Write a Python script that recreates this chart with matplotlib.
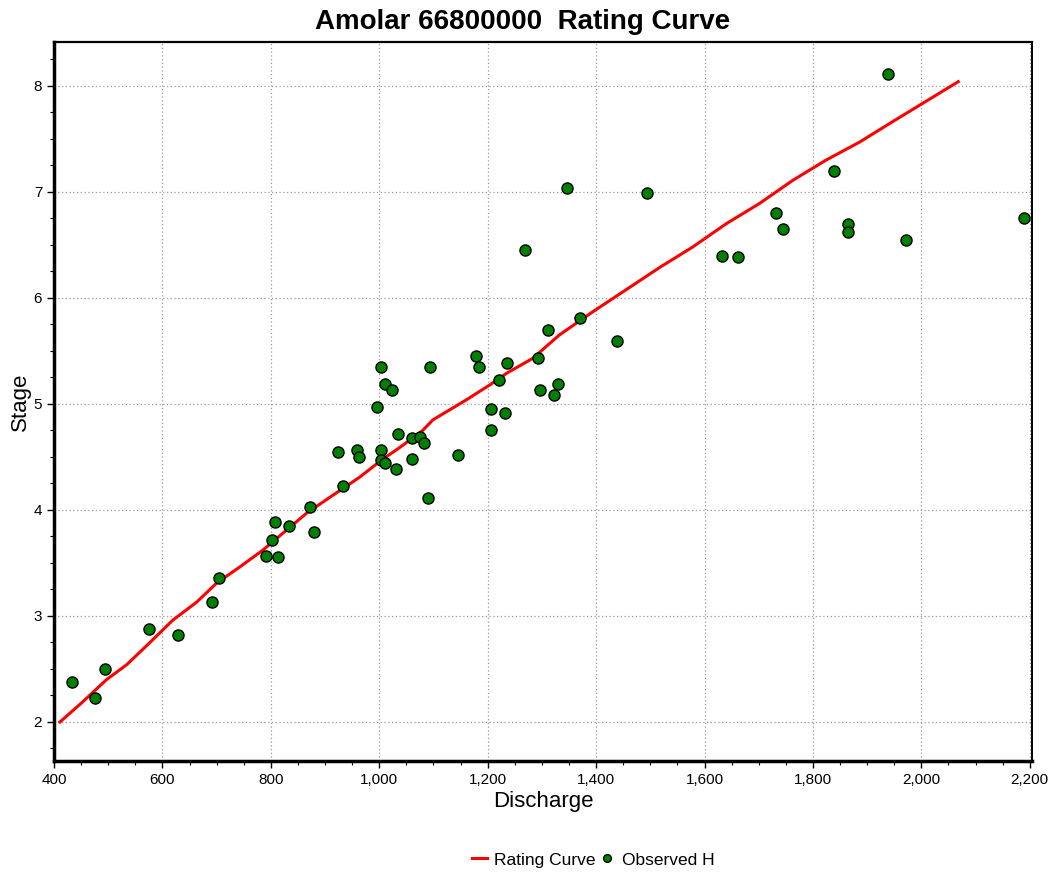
import numpy as np
import matplotlib.pyplot as plt
from matplotlib.ticker import MultipleLocator, FuncFormatter

plt.rcParams['font.family'] = ['Liberation Sans', 'DejaVu Sans']

# observed stage/discharge pairs
obs_q = [434, 476, 494, 575, 628, 691, 704, 791, 803, 807, 814, 833, 872, 879,
         923, 934, 958, 962, 995, 1003, 1004, 1004, 1010, 1011, 1024, 1030, 1034,
         1060, 1061, 1075, 1082, 1089, 1093, 1145, 1178, 1184, 1206, 1206, 1221,
         1232, 1235, 1269, 1292, 1296, 1312, 1323, 1329, 1347, 1370, 1438, 1493,
         1633, 1662, 1731, 1744, 1838, 1864, 1864, 1938, 1971, 2190]
obs_h = [2.38, 2.23, 2.50, 2.88, 2.82, 3.13, 3.36, 3.57, 3.72, 3.89, 3.56, 3.85,
         4.03, 3.79, 4.55, 4.23, 4.57, 4.50, 4.97, 5.35, 4.57, 4.47, 4.44, 5.19,
         5.13, 4.39, 4.72, 4.48, 4.68, 4.69, 4.63, 4.11, 5.35, 4.52, 5.45, 5.35,
         4.95, 4.75, 5.23, 4.91, 5.39, 6.45, 5.43, 5.13, 5.70, 5.08, 5.19, 7.04,
         5.81, 5.59, 6.99, 6.40, 6.39, 6.80, 6.65, 7.20, 6.70, 6.62, 8.11, 6.55,
         6.75]

# fitted rating curve
curve_q = [411, 453, 497, 534, 577, 619, 663, 700, 742, 785, 822, 866, 909, 964,
           1004, 1038, 1080, 1099, 1161, 1204, 1235, 1283, 1332, 1394, 1456, 1518,
           1578, 1640, 1701, 1763, 1824, 1886, 1946, 2007, 2068]
curve_h = [2.00, 2.19, 2.40, 2.54, 2.75, 2.96, 3.13, 3.31, 3.46, 3.62, 3.78, 3.97,
           4.12, 4.31, 4.47, 4.59, 4.75, 4.85, 5.04, 5.18, 5.29, 5.43, 5.65, 5.87,
           6.08, 6.29, 6.48, 6.70, 6.89, 7.11, 7.30, 7.47, 7.66, 7.85, 8.04]

fig = plt.figure(figsize=(10.57, 8.72), dpi=100)
ax = fig.add_axes([0.0511, 0.1273, 0.9252, 0.824])

ax.plot(curve_q, curve_h, color='#ff0000', lw=2.2, label='Rating Curve', zorder=3)
ax.plot(obs_q, obs_h, 'o', color='#008000', mec='black', mew=1.0, ms=8,
        label='Observed H', zorder=4)

ax.set_xlim(400, 2204)
ax.set_ylim(1.632, 8.41)
ax.xaxis.set_major_locator(MultipleLocator(200))
ax.xaxis.set_minor_locator(MultipleLocator(50))
ax.yaxis.set_major_locator(MultipleLocator(1))
ax.yaxis.set_minor_locator(MultipleLocator(0.25))
ax.xaxis.set_major_formatter(FuncFormatter(lambda v, p: f'{v:,.0f}'))
ax.tick_params(which='major', length=5, width=1, labelsize=11, direction='out')
ax.tick_params(which='minor', length=3, width=0.8, direction='out')

ax.grid(True, which='major', color='#999999', linestyle=(0, (1, 2)), lw=0.9)

for side, w in [('left', 2.5), ('bottom', 2.5), ('top', 1.6), ('right', 1.4)]:
    ax.spines[side].set_linewidth(w)

ax.set_xlabel('Discharge', fontsize=16, labelpad=3)
ax.set_ylabel('Stage', fontsize=16, labelpad=2)
fig.text(0.494, 0.975, 'Amolar 66800000  Rating Curve', fontsize=20,
         fontweight='bold', ha='center', va='center')

fig.legend(loc='center', bbox_to_anchor=(0.561, 0.0138), ncol=2, frameon=False,
           fontsize=12.5, handlelength=0.9, handletextpad=0.4, columnspacing=0.2,
           markerscale=0.7)

fig.savefig('out.png', dpi=100)
